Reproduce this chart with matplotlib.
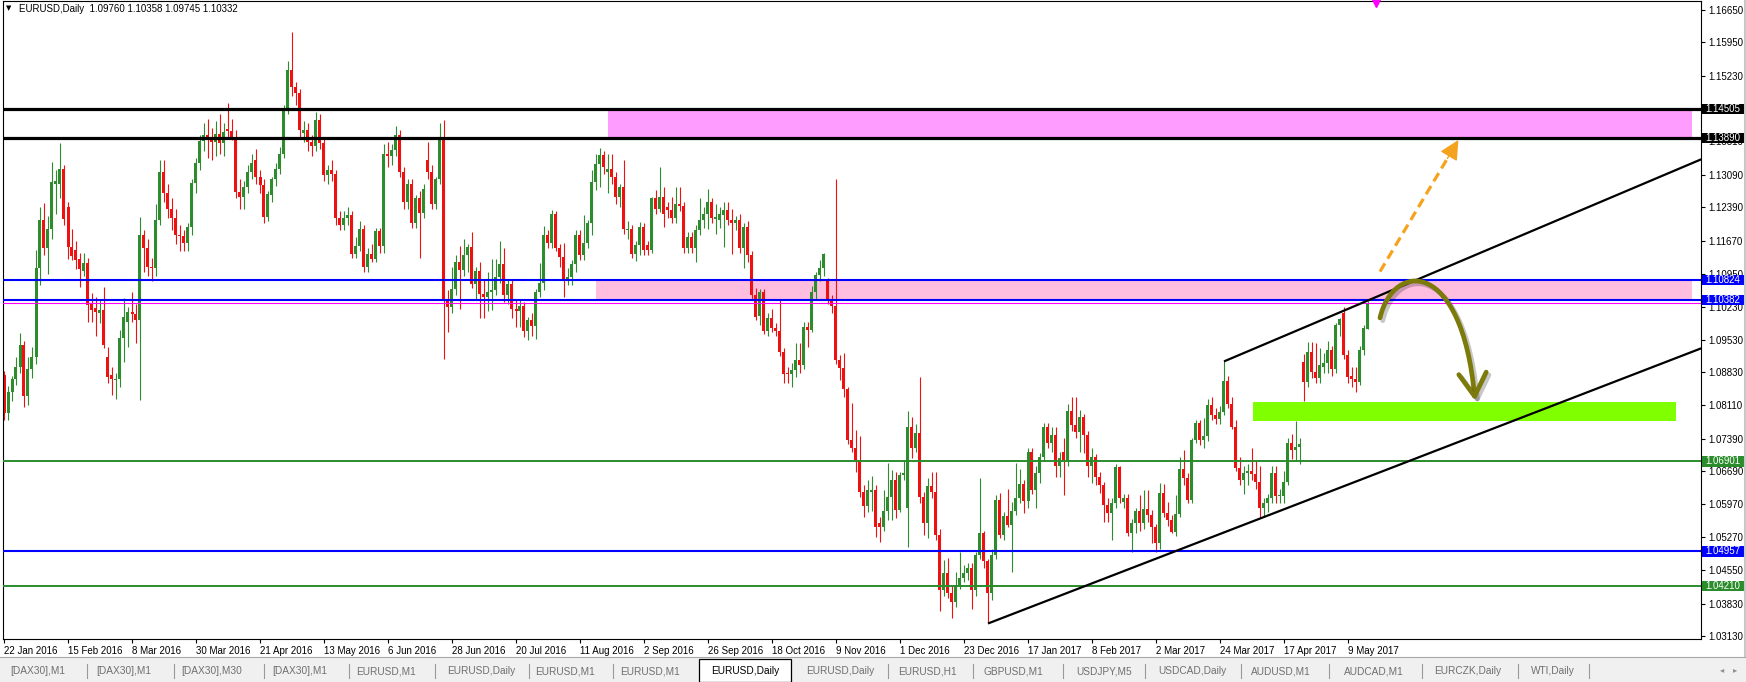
import numpy as np
import matplotlib
matplotlib.use('Agg')
import matplotlib.pyplot as plt
from matplotlib.patches import Rectangle, FancyArrowPatch
from matplotlib.lines import Line2D
from matplotlib.path import Path
import matplotlib.transforms as mtransforms
import matplotlib.patheffects as pe

plt.rcParams['font.family'] = ['Liberation Sans', 'DejaVu Sans']

# ---------------- data (prices in 1/10000) ----------------
opens = [
10877,10795,10840,10867,10893,10941,10831,10889,10916,11107,
11211,11150,11193,11290,11290,11321,11240,11154,11146,11128,
11102,11119,11031,11021,11011,11018,10916,10877,10866,10867,
10956,10992,11013,11008,10995,11179,11150,11110,11107,11212,
11316,11269,11236,11215,11179,11176,11161,11197,11292,11335,
11381,11395,11388,11380,11398,11377,11409,11404,11391,11272,
11261,11283,11316,11340,11305,11287,11218,11265,11299,11321,
11355,11449,11535,11498,11485,11400,11405,11380,11371,11427,
11377,11308,11319,11310,11215,11200,11215,11222,11139,11155,
11193,11110,11139,11128,11188,11155,11355,11350,11362,11395,
11316,11251,11290,11204,11258,11226,11340,11315,11247,11299,
11384,11040,11024,11063,11121,11103,11135,11153,11074,11101,
11051,11045,11056,11060,11089,11117,11049,11074,11020,11015,
11025,10972,10995,10982,11056,11076,11179,11162,11225,11150,
11132,11081,11089,11117,11179,11135,11162,11204,11294,11333,
11351,11316,11322,11305,11261,11283,11190,11193,11139,11157,
11197,11157,11146,11258,11236,11261,11240,11233,11215,11247,
11241,11150,11175,11150,11189,11211,11225,11251,11213,11211,
11222,11233,11211,11204,11211,11150,11197,11135,11049,11004,
11057,10971,10999,10978,10971,10927,10882,10879,10888,10908,
10898,10981,10974,11057,11093,11107,11082,11039,11026,10908,
10891,10846,10737,10720,10693,10625,10593,10625,10629,10556,
10549,10582,10614,10650,10585,10661,10589,10765,10719,10751,
10614,10557,10636,10625,10531,10413,10449,10405,10387,10423,
10438,10449,10459,10413,10488,10535,10474,10405,10488,10607,
10531,10572,10553,10582,10610,10641,10604,10711,10628,10664,
10700,10765,10729,10747,10680,10710,10692,10798,10769,10754,
10785,10747,10680,10700,10657,10639,10596,10578,10600,10677,
10603,10610,10535,10558,10582,10556,10587,10574,10549,10513,
10621,10578,10564,10538,10577,10673,10654,10607,10736,10772,
10736,10745,10812,10790,10782,10797,10864,10815,10765,10675,
10650,10665,10670,10662,10645,10590,10600,10610,10665,10615,
10616,10645,10730,10715,10722,10905,10862,10927,10884,10870,
10895,10902,10931,10890,10985,11010,10920,10875,10868,10862,
10931,10976]

highs = [
10886,10852,10875,10915,10967,10950,10916,10938,11146,11240,
11248,11220,11337,11320,11377,11330,11250,11193,11165,11140,
11140,11130,11053,11046,11039,11067,10938,10895,10880,10974,
11042,11024,11057,11031,11218,11190,11170,11130,11245,11342,
11340,11290,11260,11235,11200,11190,11205,11300,11345,11395,
11420,11430,11410,11425,11440,11420,11465,11430,11405,11300,
11295,11330,11355,11365,11320,11300,11275,11305,11335,11370,
11460,11555,11617,11510,11495,11425,11420,11395,11445,11440,
11390,11330,11340,11320,11230,11230,11240,11230,11175,11210,
11200,11150,11160,11195,11195,11375,11380,11375,11415,11405,
11325,11300,11300,11265,11275,11290,11380,11330,11305,11420,
11427,11060,11110,11135,11155,11170,11160,11185,11110,11121,
11085,11100,11128,11128,11166,11150,11085,11085,11038,11040,
11035,11002,11010,11063,11118,11198,11190,11234,11230,11160,
11161,11107,11125,11190,11190,11222,11211,11319,11355,11366,
11360,11355,11355,11315,11290,11341,11210,11200,11165,11208,
11205,11165,11262,11276,11326,11283,11250,11261,11283,11283,
11250,11185,11185,11200,11258,11240,11279,11258,11247,11240,
11251,11250,11236,11220,11225,11205,11210,11145,11065,11063,
11063,11010,11020,10990,11039,10935,10895,10902,10945,10945,
10992,10992,11068,11100,11125,11141,11086,11050,11300,10920,
10924,10850,10816,10758,10744,10640,10650,10658,10640,10570,
10629,10686,10672,10668,10668,10690,10798,10787,10770,10873,
10625,10654,10668,10668,10545,10477,10481,10420,10452,10495,
10467,10470,10470,10495,10654,10540,10480,10500,10618,10621,
10580,10630,10603,10686,10673,10650,10718,10720,10680,10709,
10772,10774,10765,10765,10711,10740,10813,10830,10830,10801,
10792,10755,10718,10705,10668,10645,10610,10610,10684,10680,
10620,10620,10565,10589,10618,10628,10628,10585,10555,10643,
10641,10603,10575,10618,10700,10715,10665,10740,10780,10780,
10783,10825,10830,10805,10810,10906,10875,10830,10780,10700,
10680,10685,10720,10690,10680,10610,10620,10680,10680,10630,
10670,10740,10750,10778,10740,10921,10949,10949,10945,10935,
10925,10950,10940,10990,11000,11023,10930,10895,10895,10940,
10985,11036]

lows = [
10780,10779,10820,10855,10880,10808,10812,10870,10900,11070,
11135,11095,11170,11225,11260,11200,11128,11125,11105,11067,
11090,10992,10992,10960,10988,10935,10859,10833,10824,10851,
10905,10938,10992,10945,10823,11100,11090,11080,11090,11200,
11250,11215,11190,11160,11145,11145,11145,11180,11270,11320,
11360,11345,11340,11350,11355,11350,11390,11385,11260,11235,
11235,11270,11300,11290,11270,11205,11210,11250,11285,11310,
11345,11440,11480,11460,11390,11380,11360,11350,11360,11365,
11295,11290,11295,11200,11190,11190,11200,11130,11130,11145,
11100,11100,11120,11120,11140,11140,11325,11330,11350,11305,
11235,11235,11195,11195,11130,11215,11300,11235,11235,11290,
10912,10970,11010,11050,11020,11090,11100,11065,11040,11000,
11000,11015,11017,11050,11075,11035,11030,10999,10981,10980,
10959,10952,10960,10955,11045,11060,11150,11150,11145,11110,
11045,11070,11070,11100,11125,11125,11150,11180,11276,11283,
11310,11269,11290,11247,11240,11182,11170,11130,11123,11135,
11135,11135,11140,11225,11228,11197,11215,11205,11205,11230,
11140,11140,11140,11121,11180,11195,11193,11205,11182,11195,
11153,11200,11139,11190,11140,11107,11120,11040,10995,10985,
10965,10960,10970,10960,10917,10859,10859,10850,10873,10880,
10890,10938,10970,11040,11080,11090,11030,11010,10900,10866,
10830,10728,10711,10668,10614,10570,10580,10582,10526,10517,
10540,10564,10564,10567,10580,10650,10505,10697,10710,10600,
10531,10524,10610,10520,10366,10400,10395,10351,10375,10415,
10430,10435,10371,10400,10480,10460,10340,10390,10480,10524,
10520,10549,10452,10574,10600,10578,10590,10620,10589,10643,
10690,10720,10711,10657,10657,10618,10680,10755,10740,10711,
10708,10657,10643,10639,10621,10560,10560,10520,10590,10600,
10590,10528,10495,10535,10540,10545,10560,10513,10495,10500,
10570,10550,10535,10530,10570,10640,10600,10600,10730,10725,
10718,10735,10780,10770,10770,10790,10805,10760,10670,10640,
10620,10640,10650,10630,10570,10570,10580,10600,10600,10600,
10600,10640,10695,10690,10685,10820,10850,10870,10860,10860,
10880,10880,10875,10880,10960,10912,10860,10850,10841,10855,
10920,10975]

closes = [
10795,10840,10867,10893,10941,10831,10889,10916,11107,11211,
11150,11193,11293,11295,11321,11213,11154,11133,11126,11105,
11119,11028,11016,11013,11018,10941,10872,10867,10869,10956,
11001,11013,11008,10995,11179,11150,11110,11107,11212,11316,
11269,11236,11215,11179,11176,11161,11197,11292,11335,11381,
11395,11388,11380,11398,11377,11402,11404,11391,11272,11261,
11283,11316,11335,11305,11287,11218,11268,11299,11321,11355,
11449,11535,11498,11485,11405,11405,11380,11371,11427,11377,
11308,11319,11310,11215,11200,11215,11222,11139,11155,11193,
11110,11139,11128,11188,11155,11355,11350,11362,11395,11316,
11251,11290,11204,11258,11226,11278,11315,11247,11299,11384,
11040,11024,11063,11121,11103,11135,11153,11074,11101,11051,
11045,11056,11060,11089,11117,11049,11074,11020,11015,11025,
10972,10995,10982,11056,11076,11179,11162,11225,11150,11132,
11081,11089,11117,11179,11135,11162,11204,11294,11333,11351,
11326,11322,11305,11261,11283,11193,11193,11139,11157,11197,
11146,11146,11258,11236,11261,11225,11233,11215,11247,11241,
11150,11175,11150,11189,11211,11225,11251,11215,11218,11225,
11233,11211,11204,11211,11150,11197,11135,11049,11002,11057,
10971,10999,10978,10971,10927,10879,10879,10888,10908,10898,
10981,10974,11057,11093,11107,11138,11039,11026,10908,10891,
10846,10737,10720,10693,10625,10593,10629,10629,10549,10549,
10582,10614,10650,10585,10661,10666,10765,10719,10751,10614,
10557,10636,10625,10531,10413,10449,10405,10387,10423,10438,
10449,10459,10413,10488,10535,10474,10405,10488,10607,10531,
10572,10553,10582,10610,10641,10604,10711,10628,10664,10700,
10765,10729,10747,10680,10697,10692,10798,10769,10754,10785,
10747,10680,10700,10657,10639,10596,10578,10600,10677,10610,
10610,10535,10558,10582,10556,10587,10574,10549,10513,10621,
10578,10564,10538,10577,10673,10654,10607,10736,10772,10736,
10745,10812,10790,10782,10797,10864,10815,10765,10675,10650,
10665,10670,10662,10645,10590,10600,10610,10665,10615,10616,
10645,10730,10715,10722,10727,10862,10927,10884,10870,10899,
10902,10931,10890,10985,10998,10920,10873,10868,10862,10931,
10978,11033]

date_labels = ['22 Jan 2016', '15 Feb 2016', '8 Mar 2016', '30 Mar 2016', '21 Apr 2016',
               '13 May 2016', '6 Jun 2016', '28 Jun 2016', '20 Jul 2016', '11 Aug 2016',
               '2 Sep 2016', '26 Sep 2016', '18 Oct 2016', '9 Nov 2016', '1 Dec 2016',
               '23 Dec 2016', '17 Jan 2017', '8 Feb 2017', '2 Mar 2017', '24 Mar 2017',
               '17 Apr 2017', '9 May 2017']
bars_per_label = 16

price_ticks = [1.16650, 1.15950, 1.15230, 1.14510, 1.13810, 1.13090, 1.12390, 1.11670,
               1.10950, 1.10230, 1.09530, 1.08830, 1.08110, 1.07390, 1.06690, 1.05970,
               1.05270, 1.04550, 1.03830, 1.03130]

level_values = [1.14505, 1.13890, 1.10824, 1.10382, 1.06901, 1.04957, 1.04210]
level_colors = ['black', 'black', '#0000ff', '#0000ff', '#2b8c2b', '#0000ff', '#2b8c2b']
level_widths = [2.3, 2.3, 1.5, 1.5, 1.4, 1.5, 1.4]

# zones: (start bar, end bar, low price, high price)
zone_upper = (151, 422, 1.13890, 1.14505)
zone_lower = (148, 422, 1.10382, 1.10824)
zone_green = (312.2, 418.0, 1.07780, 1.08190)

# trend channel anchors (bar, price)
channel_upper = [(305, 1.0906), (424.3, 1.13425)]
channel_lower = [(246, 1.0340), (424.3, 1.09343)]

# scenario arrows (bar, price)
bull_arrow = [(344.0, 1.11000), (363.6, 1.13842)]
bear_curve = [(344.0, 1.10000), (347.3, 1.11230), (364.5, 1.11300), (367.75, 1.08210)]

title = 'EURUSD,Daily  1.09760 1.10358 1.09745 1.10332'

tab_names = ['[DAX30],M1', '[DAX30],M1', '[DAX30],M30', '[DAX30],M1', 'EURUSD,M1',
             'EURUSD,Daily', 'EURUSD,M1', 'EURUSD,M1', 'EURUSD,Daily', 'EURUSD,Daily',
             'EURUSD,H1', 'GBPUSD,M1', 'USDJPY,M5', 'USDCAD,Daily', 'AUDUSD,M1',
             'AUDCAD,M1', 'EURCZK,Daily', 'WTI,Daily']
active_tab = 8

# ---------------- figure ----------------
W, H = 1746, 682
fig = plt.figure(figsize=(W / 100, H / 100), dpi=100)
fig.patch.set_facecolor('white')


def fx(px):
    return px / W


def fy(py):
    return 1 - py / H


ax = fig.add_axes([fx(3), fy(639), fx(1701) - fx(3), fy(1) - fy(639)])
ax.set_facecolor('white')

o = np.array(opens) * 1e-4
h = np.array(highs) * 1e-4
l = np.array(lows) * 1e-4
c = np.array(closes) * 1e-4
x = np.arange(len(c))

BULL = '#2e8b2e'
BEAR = '#ee1111'
cols = np.where(c >= o, BULL, BEAR)

# zones (background)
for (x0, x1, p0, p1), fc in [(zone_upper, '#ff9cff'), (zone_lower, '#ffbde0'), (zone_green, '#80ff00')]:
    ax.add_patch(Rectangle((x0, p0), x1 - x0, p1 - p0, facecolor=fc, edgecolor='none', zorder=1))

# candles
ax.vlines(x, l, h, colors=cols, lw=0.8, zorder=2)
body_bottom = np.minimum(o, c)
body_h = np.maximum(np.abs(c - o), 0.00022)
ax.bar(x, body_h, bottom=body_bottom, width=0.75, color=cols, linewidth=0, zorder=2.1)

# horizontal levels
for v, col, lw in zip(level_values, level_colors, level_widths):
    ax.axhline(v, color=col, lw=lw, zorder=3)
# bid line at last close
ax.axhline(c[-1], color='#ff00ff', lw=0.8, zorder=3)

# channel lines
for pts in (channel_upper, channel_lower):
    ax.plot([pts[0][0], pts[1][0]], [pts[0][1], pts[1][1]], color='black', lw=1.6, zorder=4,
            solid_capstyle='butt')

# bullish dashed arrow
orange = '#f5a31e'
(bx0, by0), (bx1, by1) = bull_arrow
ax.plot([bx0, bx1 - 0.12 * (bx1 - bx0)], [by0, by1 - 0.12 * (by1 - by0)], color=orange, lw=2.3,
        dashes=(3, 1.7), zorder=5, solid_capstyle='butt')
ax.annotate('', xy=(bx1, by1), xytext=(bx1 - 0.14 * (bx1 - bx0), by1 - 0.14 * (by1 - by0)),
            arrowprops=dict(arrowstyle='-|>,head_length=1.0,head_width=0.5', color=orange,
                            lw=1, shrinkA=0, shrinkB=0, mutation_scale=12), zorder=5)

# bearish curved arrow
olive = '#7b7a0a'
path = Path(bear_curve, [Path.MOVETO, Path.CURVE4, Path.CURVE4, Path.CURVE4])
arr = FancyArrowPatch(path=path, arrowstyle='->,head_length=1.5,head_width=0.9',
                      mutation_scale=11, lw=3.4, color=olive, zorder=6,
                      capstyle='round', joinstyle='round')
arr.set_path_effects([pe.SimpleLineShadow(offset=(2, -2), shadow_color='black', alpha=0.22),
                      pe.Normal()])
ax.add_patch(arr)

# magenta shift marker at top
ax.plot([343], [1.0 - 1.5 / 638], marker='v', color='#ff00ff', ms=6,
        transform=mtransforms.blended_transform_factory(ax.transData, ax.transAxes),
        clip_on=False, zorder=7)

# axes ranges
ax.set_xlim(-0.25, 424.25)
ax.set_ylim(1.03065, 1.16844)

# ticks
ax.yaxis.tick_right()
ax.set_yticks(price_ticks)
ax.set_yticklabels([f'{v:.5f}' for v in price_ticks])
ax.tick_params(axis='y', direction='out', length=3, width=0.8, pad=2, labelsize=7,
               colors='black', left=False, labelleft=False, right=True, labelright=True)
ax.set_xticks(np.arange(len(date_labels)) * bars_per_label)
ax.set_xticklabels(date_labels)
ax.tick_params(axis='x', direction='out', length=3, width=0.8, pad=2, labelsize=7)
for lbl in ax.get_xticklabels():
    lbl.set_horizontalalignment('left')
for s in ax.spines.values():
    s.set_linewidth(0.8)
    s.set_color('black')

# price boxes at right
trans_fy = mtransforms.blended_transform_factory(fig.transFigure, ax.transData)
for v, col in zip(level_values, level_colors):
    ax.add_patch(Rectangle((fx(1702), v - 0.00112), fx(1744) - fx(1702), 0.00224,
                           transform=trans_fy, facecolor=col, edgecolor='none',
                           clip_on=False, zorder=10))
    ax.text(fx(1705), v, f'{v:.5f}', transform=trans_fy, color='white', fontsize=7,
            ha='left', va='center', clip_on=False, zorder=11)

# title
fig.text(fx(6), fy(8.5), '▼', fontsize=5, ha='left', va='center',
         family=['DejaVu Sans'])
fig.text(fx(19), fy(8.5), title, fontsize=7, ha='left', va='center')

# window right border
fig.add_artist(Line2D([fx(1744.5), fx(1744.5)], [fy(0), fy(657)], color='#c8c8c8', lw=1.5,
                      transform=fig.transFigure))

# tab bar
fig.add_artist(Rectangle((0, fy(682)), 1, fy(657) - fy(682), transform=fig.transFigure,
                         facecolor='#f0f0f0', edgecolor='none'))
fig.add_artist(Line2D([0, 1], [fy(657), fy(657)], color='#a8a8a8', lw=0.8,
                      transform=fig.transFigure))
tab_centers = [38, 124, 212, 300, 386, 481, 565, 650, 745, 840, 927, 1013, 1104, 1192,
               1281, 1374, 1468, 1553]
sep_x = [87, 174, 264, 349, 435, 529, 613, 888, 973, 1063, 1145, 1241, 1329, 1422,
         1518, 1589]
fig.add_artist(Rectangle((fx(699), fy(682)), fx(791) - fx(699), fy(659) - fy(682),
                         transform=fig.transFigure, facecolor='white', edgecolor='black',
                         lw=0.9))
for i, (name, cx) in enumerate(zip(tab_names, tab_centers)):
    fig.text(fx(cx), fy(671), name, fontsize=7.3, ha='center', va='center',
             color='black' if i == active_tab else '#707070')
for sx in sep_x:
    fig.add_artist(Line2D([fx(sx), fx(sx)], [fy(664), fy(678)], color='#9a9a9a', lw=0.8,
                          transform=fig.transFigure))
fig.text(fx(1722), fy(670), '◂', fontsize=6, ha='center', va='center', color='#909090',
         family=['DejaVu Sans'])
fig.text(fx(1735), fy(670), '▸', fontsize=6, ha='center', va='center', color='#909090',
         family=['DejaVu Sans'])

fig.savefig('out.png', dpi=100, facecolor='white')
